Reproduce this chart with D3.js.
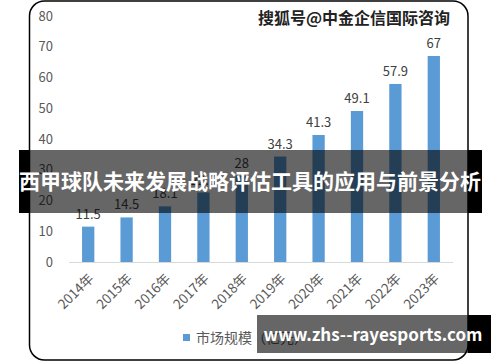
<!DOCTYPE html>
<html>
<head>
<meta charset="utf-8">
<script src="https://cdn.jsdelivr.net/npm/d3@7/dist/d3.min.js"></script>
<style>
  body { margin: 0; background: #fff; }
  svg { display: block; font-family: "Noto Sans CJK SC", "Noto Sans", sans-serif; }
</style>
</head>
<body>
<svg id="chart" width="500" height="362"></svg>
<script>
const years = ["2014年", "2015年", "2016年", "2017年", "2018年", "2019年", "2020年", "2021年", "2022年", "2023年"];
const values = [11.5, 14.5, 18.1, 22.6, 28, 34.3, 41.3, 49.1, 57.9, 67];
const yTicks = [0, 10, 20, 30, 40, 50, 60, 70, 80];
const legendLabel = "市场规模（亿元）";
const watermark = "搜狐号@中金企信国际咨询";
const title = "西甲球队未来发展战略评估工具的应用与前景分析";
const site = "www.zhs--rayesports.com";

const svg = d3.select("#chart");

// rounded frame
svg.append("rect")
  .attr("x", 29.5).attr("y", 1)
  .attr("width", 438.5).attr("height", 359)
  .attr("rx", 15).attr("ry", 15)
  .attr("fill", "#fff")
  .attr("stroke", "#000")
  .attr("stroke-width", 1.5);

const x = d3.scaleBand()
  .domain(years)
  .range([69, 453])
  .paddingInner(0.68)
  .paddingOuter(0.34);

const y = d3.scaleLinear()
  .domain([0, 80])
  .range([262, 16]);

// y tick labels
svg.append("g")
  .selectAll("text")
  .data(yTicks)
  .enter()
  .append("text")
  .attr("x", 53)
  .attr("y", d => y(d))
  .attr("dy", "0.35em")
  .attr("text-anchor", "end")
  .attr("fill", "#595959")
  .style("font-size", "13px")
  .text(d => d);

// bars
svg.append("g")
  .selectAll("rect")
  .data(values)
  .enter()
  .append("rect")
  .attr("x", (d, i) => x(years[i]))
  .attr("y", d => y(d))
  .attr("width", x.bandwidth())
  .attr("height", d => y(0) - y(d))
  .attr("fill", "#5b9bd5");

// value labels
svg.append("g")
  .selectAll("text")
  .data(values)
  .enter()
  .append("text")
  .attr("x", (d, i) => x(years[i]) + x.bandwidth() / 2)
  .attr("y", d => y(d) - 8)
  .attr("text-anchor", "middle")
  .attr("fill", "#404040")
  .style("font-size", "13px")
  .text(d => d);

// baseline
svg.append("line")
  .attr("x1", 69).attr("x2", 453)
  .attr("y1", y(0) + 0.5).attr("y2", y(0) + 0.5)
  .attr("stroke", "#d9d9d9")
  .attr("stroke-width", 1);

// x labels
svg.append("g")
  .selectAll("text")
  .data(years)
  .enter()
  .append("text")
  .attr("transform", d => "translate(" + (x(d) + x.bandwidth() / 2 + 3) + "," + 276 + ") rotate(-45)")
  .attr("text-anchor", "end")
  .attr("dy", "0.35em")
  .attr("fill", "#595959")
  .style("font-size", "13.5px")
  .text(d => d);

// legend
svg.append("rect")
  .attr("x", 183).attr("y", 334)
  .attr("width", 7).attr("height", 7)
  .attr("fill", "#5b9bd5");
svg.append("text")
  .attr("x", 196).attr("y", 343)
  .attr("fill", "#595959")
  .style("font-size", "14px")
  .text(legendLabel);

// watermark at top
svg.append("text")
  .attr("x", 450).attr("y", 24)
  .attr("text-anchor", "end")
  .attr("fill", "#222")
  .style("font-size", "16px")
  .style("font-weight", "bold")
  .text(watermark);

// middle title banner
svg.append("rect")
  .attr("x", 19).attr("y", 150)
  .attr("width", 463).attr("height", 63)
  .attr("fill", "rgba(0,0,0,0.6)");
svg.append("rect").attr("x", 19).attr("y", 150).attr("width", 10).attr("height", 63).attr("fill", "#000");
svg.append("rect").attr("x", 468).attr("y", 150).attr("width", 14).attr("height", 63).attr("fill", "#000");
svg.append("text")
  .attr("x", 250).attr("y", 182)
  .attr("dy", "0.35em")
  .attr("text-anchor", "middle")
  .attr("fill", "#fff")
  .style("font-size", "21px")
  .style("font-weight", "bold")
  .text(title);

// bottom site banner
svg.append("rect")
  .attr("x", 257).attr("y", 315)
  .attr("width", 234).attr("height", 38)
  .attr("fill", "rgba(0,0,0,0.6)");
svg.append("rect").attr("x", 468).attr("y", 315).attr("width", 23).attr("height", 38).attr("fill", "#000");
svg.append("text")
  .attr("x", 373).attr("y", 335)
  .attr("dy", "0.35em")
  .attr("text-anchor", "middle")
  .attr("fill", "#fff")
  .style("font-size", "17px")
  .style("font-weight", "bold")
  .text(site);
</script>
</body>
</html>
